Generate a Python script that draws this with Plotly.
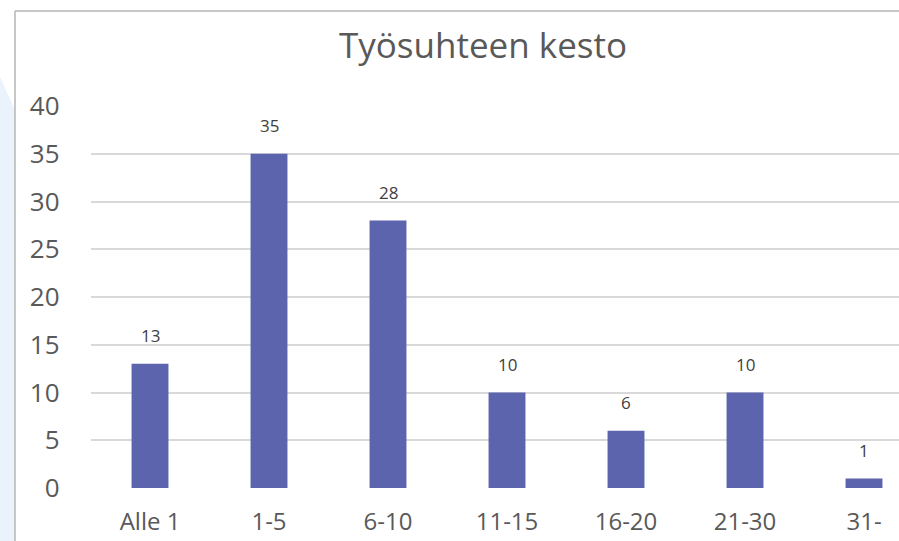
import plotly.graph_objects as go

categories = ["Alle 1", "1-5", "6-10", "11-15", "16-20", "21-30", "31-"]
values = [13, 35, 28, 10, 6, 10, 1]
y_ticks = [0, 5, 10, 15, 20, 25, 30, 35, 40]

W, H = 899, 541
FONT = "Open Sans"
GRAY = "#595959"

fig = go.Figure()
fig.add_trace(go.Bar(
    x=categories, y=values, width=0.31,
    marker=dict(color="#5b64ac", line=dict(width=0)),
    hoverinfo="skip",
))

for c, v in zip(categories, values):
    fig.add_annotation(x=c, y=v, text=str(v), showarrow=False, yshift=28,
                       font=dict(family=FONT, size=17, color="#404040"),
                       xref="x", yref="y")

fig.add_annotation(x=483 / W, y=1 - 45 / H, xref="paper", yref="paper",
                   text="Työsuhteen kesto", showarrow=False,
                   xanchor="center", yanchor="middle",
                   font=dict(family=FONT, size=35, color=GRAY))

shapes = [
    dict(type="path", xref="paper", yref="paper",
         path=f"M 0 {1-77/H} L {15/W} {1-110/H} L {15/W} 0 L 0 0 Z",
         fillcolor="#eaf3fc", line=dict(width=0), layer="below"),
    dict(type="line", xref="paper", yref="paper", x0=15 / W, x1=1,
         y0=1 - 11 / H, y1=1 - 11 / H, line=dict(color="#b4b4b4", width=1.5)),
    dict(type="line", xref="paper", yref="paper", x0=15 / W, x1=15 / W,
         y0=1 - 11 / H, y1=0, line=dict(color="#b4b4b4", width=1.5)),
]

fig.update_layout(
    width=W, height=H,
    margin=dict(l=0, r=0, t=0, b=0, autoexpand=False),
    paper_bgcolor="white", plot_bgcolor="white",
    showlegend=False, shapes=shapes,
    xaxis=dict(domain=[90.5 / W, 1], range=[-0.5, 6.294], automargin=False,
               tickfont=dict(family=FONT, size=24, color=GRAY),
               showgrid=False, zeroline=False, showline=False,
               ticks="", ticklabelstandoff=17, fixedrange=True),
    yaxis=dict(domain=[1 - 488 / H, 1 - 106 / H], range=[0, 40], automargin=False,
               tickvals=y_ticks, ticktext=[str(t) for t in y_ticks],
               tickfont=dict(family=FONT, size=26, color=GRAY),
               showgrid=True, gridcolor="#d9d9d9", gridwidth=1.5,
               zeroline=False, showline=False, ticks="",
               ticklabelstandoff=30, fixedrange=True),
)

fig.write_html(
    "out.html",
    config={"displayModeBar": False},
    post_script=("document.body.style.margin='0';"
                 "document.body.style.overflow='hidden';"
                 "document.documentElement.style.overflow='hidden';"),
)
